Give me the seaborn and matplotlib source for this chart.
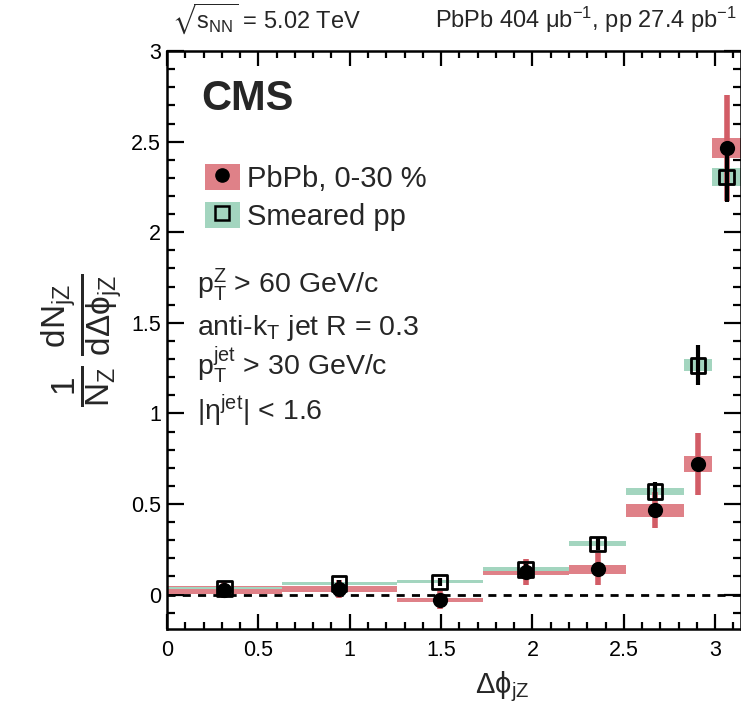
import numpy as np
import pandas as pd
import matplotlib
matplotlib.use('Agg')
import matplotlib.pyplot as plt
from matplotlib import font_manager
from matplotlib.patches import Patch
from matplotlib.lines import Line2D
from matplotlib.ticker import MultipleLocator, FuncFormatter
import seaborn as sns

# delta phi bins (edges in units of pi)
bin_edges = np.array([0, 0.2, 0.4, 0.55, 0.7, 0.8, 0.9, 0.95, 1.0]) * np.pi

# PbPb 0-30 %
pbpb_y = [0.025, 0.03, -0.03, 0.125, 0.14, 0.465, 0.72, 2.465]
pbpb_stat = [0.045, 0.05, 0.05, 0.07, 0.088, 0.10, 0.173, 0.29]
pbpb_sys = [0.02, 0.016, 0.012, 0.015, 0.025, 0.034, 0.046, 0.053]

# smeared pp
pp_y = [0.035, 0.06, 0.07, 0.14, 0.28, 0.57, 1.265, 2.305]
pp_stat = [0.015, 0.02, 0.02, 0.03, 0.035, 0.05, 0.11, 0.14]
pp_sys = [0.005, 0.008, 0.008, 0.01, 0.014, 0.018, 0.033, 0.05]

centers = 0.5 * (bin_edges[1:] + bin_edges[:-1])
widths = np.diff(bin_edges)

df = pd.DataFrame({'dphi': centers, 'width': widths,
                   'pbpb': pbpb_y, 'pbpb_stat': pbpb_stat, 'pbpb_sys': pbpb_sys,
                   'pp': pp_y, 'pp_stat': pp_stat, 'pp_sys': pp_sys})

red_box = '#df8188'
red_bar = '#d25c66'
green_box = '#a3d5bf'

sns.set_style('ticks')
plt.rcParams['font.family'] = ['Liberation Sans', 'DejaVu Sans']
plt.rcParams['mathtext.fontset'] = 'custom'
plt.rcParams['mathtext.rm'] = 'Liberation Sans'
plt.rcParams['mathtext.it'] = 'Liberation Sans'
plt.rcParams['mathtext.bf'] = 'Liberation Sans:bold'
plt.rcParams['mathtext.default'] = 'regular'
plt.rcParams['mathtext.fallback'] = 'stixsans'

# the y title in the original is drawn rather condensed
installed = {f.name for f in font_manager.fontManager.ttflist}
if 'Liberation Sans Narrow' in installed:
    ylab_font, ylab_size = 'Liberation Sans Narrow', 27
else:
    ylab_font, ylab_size = 'Liberation Sans', 24

fig = plt.figure(figsize=(7.41, 7.09), dpi=100)
ax = fig.add_axes([0.2254, 0.1128, 0.7746, 0.8152])

# systematic boxes
ax.bar(df['dphi'], 2 * df['pbpb_sys'], bottom=df['pbpb'] - df['pbpb_sys'],
       width=df['width'], color=red_box, linewidth=0, zorder=1)
ax.bar(df['dphi'], 2 * df['pp_sys'], bottom=df['pp'] - df['pp_sys'],
       width=df['width'], color=green_box, linewidth=0, zorder=2)

ax.axhline(0, color='black', lw=2, ls=(0, (2.9, 2.6)), zorder=3)

# statistical errors
ax.errorbar(df['dphi'], df['pbpb'], yerr=df['pbpb_stat'], fmt='none',
            ecolor=red_bar, elinewidth=4, capsize=0, zorder=4)
ax.errorbar(df['dphi'], df['pp'], yerr=df['pp_stat'], fmt='none',
            ecolor='black', elinewidth=3, capsize=0, zorder=5)

sns.scatterplot(data=df, x='dphi', y='pbpb', marker='o', s=120, color='black',
                edgecolor='black', linewidth=0, zorder=6, ax=ax)
sns.scatterplot(data=df, x='dphi', y='pp', marker='s', s=110, color='black',
                facecolor='none', edgecolor='black', linewidth=2, zorder=7, ax=ax)

ax.set_xlim(0, np.pi)
ax.set_ylim(-0.19, 3.0)
ax.xaxis.set_major_locator(MultipleLocator(0.5))
ax.xaxis.set_minor_locator(MultipleLocator(0.1))
ax.yaxis.set_major_locator(MultipleLocator(0.5))
ax.yaxis.set_minor_locator(MultipleLocator(0.1))
ax.tick_params(which='both', direction='in', top=True, right=True, width=1.6,
               labelsize=15.5, colors='black')
ax.tick_params(axis='x', which='major', length=11, pad=8)
ax.tick_params(axis='x', which='minor', length=5)
ax.tick_params(axis='y', which='major', length=12, pad=4.5)
ax.tick_params(axis='y', which='minor', length=6)
ax.xaxis.set_major_formatter(FuncFormatter(lambda v, p: f'{v:g}'))
ax.yaxis.set_major_formatter(FuncFormatter(lambda v, p: f'{v:g}'))
for s in ax.spines.values():
    s.set_linewidth(1.8)
    s.set_color('black')

ax.set_xlabel('Δϕ$_{jZ}$', fontsize=21)
ax.xaxis.set_label_coords(0.584, -0.069)
ax.set_ylabel(r'$\genfrac{}{}{3}{0}{1}{N_{Z}}\;\genfrac{}{}{3}{0}{dN_{jZ}}{dΔϕ_{jZ}}$',
              fontsize=ylab_size, family=ylab_font)
ax.yaxis.set_label_coords(-0.075, 0.5)

ax.text(0.059, 0.898, 'CMS', transform=ax.transAxes, fontsize=30,
        fontweight='bold', va='baseline')

h_pbpb = (Patch(facecolor=red_box, edgecolor='none'),
          Line2D([], [], marker='o', color='black', ls='none', markersize=9.5))
h_pp = (Patch(facecolor=green_box, edgecolor='none'),
        Line2D([], [], marker='s', mfc='none', mec='black', mew=1.8, ls='none', markersize=9.5))
ax.legend([h_pbpb, h_pp], ['PbPb, 0-30 %', 'Smeared pp'], loc='upper left',
          bbox_to_anchor=(0.066, 0.805), frameon=False, fontsize=21,
          handlelength=1.2, handleheight=1.0, handletextpad=0.25,
          labelspacing=0.3, borderpad=0, borderaxespad=0)

sel = [r'$p_{T}^{Z}$ > 60 GeV/c',
       r'anti-k$_{T}$ jet R = 0.3',
       r'$p_{T}^{jet}$ > 30 GeV/c',
       r'|η$^{jet}$| < 1.6']
for txt, yb in zip(sel, [0.581, 0.509, 0.439, 0.362]):
    ax.text(0.052, yb, txt, transform=ax.transAxes, fontsize=20.5, va='baseline')

fig.text(0.232, 0.9605, r'$\sqrt{s_{NN}}$ = 5.02 TeV', fontsize=17, va='baseline')
fig.text(0.9946, 0.9605, r'PbPb 404 μb$^{-1}$, pp 27.4 pb$^{-1}$', fontsize=17,
         va='baseline', ha='right')

fig.savefig('out.png', dpi=100)
